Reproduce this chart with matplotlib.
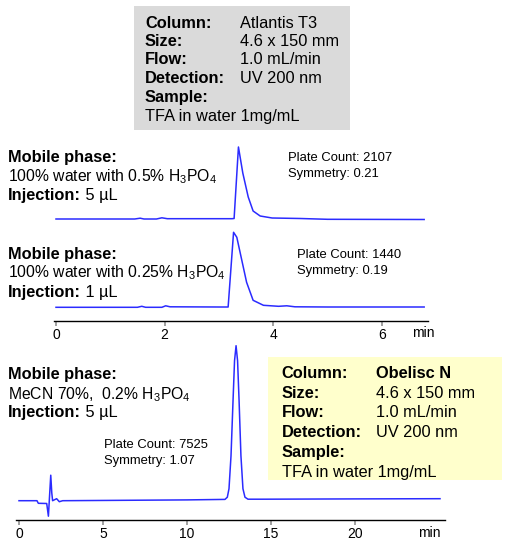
import matplotlib
matplotlib.use("Agg")
import matplotlib.pyplot as plt
import numpy as np

plt.rcParams['font.family'] = ['Liberation Sans', 'DejaVu Sans']
plt.rcParams['mathtext.fontset'] = 'custom'
plt.rcParams['mathtext.rm'] = 'Liberation Sans'
plt.rcParams['mathtext.it'] = 'Liberation Sans:italic'
plt.rcParams['mathtext.bf'] = 'Liberation Sans:bold'

# ---------------- data ----------------
# Chromatogram 1: 100% water, 0.5% H3PO4, 5 uL  (Atlantis T3)
t1 = [0.0, 1.45, 1.55, 1.62, 1.85, 1.95, 2.05, 3.0, 3.24, 3.28, 3.36, 3.44, 3.54, 3.63, 3.76, 3.98, 4.5, 5.0, 6.78]
a1 = [0.0, 0.0, 0.8, 0.0, 0.0, 1.2, 0.3, 0.3, 0.3, 0.5, 72, 46, 22, 8, 3, 1, 0.5, -0.3, -0.5]
# Chromatogram 2: 100% water, 0.25% H3PO4, 1 uL  (Atlantis T3)
t2 = [0.0, 1.5, 1.58, 1.65, 1.95, 2.02, 2.1, 3.0, 3.17, 3.27, 3.33, 3.39, 3.51, 3.63, 3.82, 4.1, 4.25, 4.4, 5.0, 6.78]
a2 = [0, 0, 1, 0, 0, 1.5, 0.5, 0.3, 0.3, 75, 70, 55, 25, 7, 2, 1, 1.5, 0.5, 0.3, 0.3]
# Chromatogram 3: MeCN 70%, 0.2% H3PO4, 5 uL  (Obelisc N)
t3 = [0, 1.07, 1.15, 1.65, 1.75, 1.82, 1.89, 1.95, 2.0, 2.24, 2.4, 2.6, 10.0, 12.26, 12.4, 12.5,
      12.62, 12.74, 12.83, 12.92, 13.01, 13.1, 13.21, 13.33, 13.45, 13.63, 14.5, 20, 25.06]
a3 = [0, 0, -2.6, -2.8, -15.5, 5, 25.5, 8, 0, 2, -1, 0, 0.8, 1.3, 3.5, 12,
      45, 100, 140, 155, 140, 100, 45, 12, 3.5, 1.5, 1.5, 1.8, 2]

ticks_top = [0, 2, 4, 6]
ticks_bottom = [0, 5, 10, 15, 20]

box_labels = ["Column:", "Size:", "Flow:", "Detection:", "Sample:"]
box1_values = ["Atlantis T3", "4.6 x 150 mm", "1.0 mL/min", "UV 200 nm", ""]
box2_values = ["Obelisc N", "4.6 x 150 mm", "1.0 mL/min", "UV 200 nm", ""]
sample_text = "TFA in water 1mg/mL"

panel_phase = ["100% water with 0.5% H$_3$PO$_4$",
               "100% water with 0.25% H$_3$PO$_4$",
               "MeCN 70%,  0.2% H$_3$PO$_4$"]
panel_inj = ["5 µL", "1 µL", "5 µL"]
panel_plate = ["Plate Count: 2107", "Plate Count: 1440", "Plate Count: 7525"]
panel_sym = ["Symmetry: 0.21", "Symmetry: 0.19", "Symmetry: 1.07"]

# ---------------- layout ----------------
W, H = 509, 551
fig = plt.figure(figsize=(W / 100, H / 100), dpi=100)
fig.patch.set_facecolor('white')


def fx(x):
    return x / W


def fy(y):
    return 1 - y / H


LINE = '#2b2bff'
BIG = 11.8
PHASE = 11.3
SMALL = 9.4


def style_axes(ax, ticks):
    for s in ['top', 'right', 'left']:
        ax.spines[s].set_visible(False)
    ax.spines['bottom'].set_color('black')
    ax.spines['bottom'].set_linewidth(1.0)
    ax.set_yticks([])
    ax.set_xticks(ticks)
    ax.set_xticklabels([str(t) for t in ticks])
    ax.tick_params(axis='x', direction='out', length=3.5, width=1.2, color='#909090',
                   labelsize=10, pad=1.5, labelcolor='black')
    ax.patch.set_alpha(0)


# Top axes (chromatograms 1 and 2)
ax1_left, ax1_right, ax1_bot, ax1_top = 54, 428, 321, 140
ax1 = fig.add_axes([fx(ax1_left), fy(ax1_bot), (ax1_right - ax1_left) / W, (ax1_bot - ax1_top) / H])
px_per_min1, x0_1 = 54.3, 56
ax1.set_xlim((ax1_left - x0_1) / px_per_min1, (ax1_right - x0_1) / px_per_min1)
ax1.set_ylim(0, ax1_bot - ax1_top)
off1, off2 = 102.0, 13.7
ax1.plot(t1, np.array(a1) + off1, color=LINE, lw=1.1, solid_joinstyle='round')
ax1.plot(t2, np.array(a2) + off2, color=LINE, lw=1.1, solid_joinstyle='round')
style_axes(ax1, ticks_top)

# Bottom axes (chromatogram 3)
ax2_left, ax2_right, ax2_bot, ax2_top = 16, 445, 520, 340
ax2 = fig.add_axes([fx(ax2_left), fy(ax2_bot), (ax2_right - ax2_left) / W, (ax2_bot - ax2_top) / H])
px_per_min2, x0_2 = 16.8, 19
ax2.set_xlim((ax2_left - x0_2) / px_per_min2, (ax2_right - x0_2) / px_per_min2)
ax2.set_ylim(0, ax2_bot - ax2_top)
off3 = 19.3
ax2.plot(t3, np.array(a3) + off3, color=LINE, lw=1.1, solid_joinstyle='round')
style_axes(ax2, ticks_bottom)

fig.text(fx(423), fy(333), "min", fontsize=10, ha='center', va='center')
fig.text(fx(429), fy(533), "min", fontsize=10, ha='center', va='center')


# ---------------- info boxes ----------------
def info_box(x0, y0, x1, y1, color, lab_x, val_x, baselines, values, bold_first_value=False):
    fig.patches.append(plt.Rectangle((fx(x0), fy(y1)), (x1 - x0) / W, (y1 - y0) / H,
                                     transform=fig.transFigure, facecolor=color,
                                     edgecolor='none', zorder=0))
    for i, lab in enumerate(box_labels):
        fig.text(fx(lab_x), fy(baselines[i]), lab, fontsize=BIG, fontweight='bold',
                 ha='left', va='baseline')
        if values[i]:
            fig.text(fx(val_x), fy(baselines[i]), values[i], fontsize=BIG,
                     fontweight='bold' if (bold_first_value and i == 0) else 'normal',
                     ha='left', va='baseline')
    fig.text(fx(lab_x), fy(baselines[5]), sample_text, fontsize=BIG, ha='left', va='baseline')


info_box(134, 6, 350, 130, '#dadada', 145, 240,
         [27.7, 46, 64.3, 83, 101.7, 120.7], box1_values)
info_box(268, 357, 502, 480, '#ffffcc', 281.5, 376.5,
         [378.5, 398.5, 416.8, 437, 456.8, 476.8], box2_values, bold_first_value=True)

# ---------------- panel annotations ----------------
panel_pos = [
    # (mobile baseline, phase baseline, injection baseline, plate x, plate baseline, sym baseline)
    (162, 181, 200, 288.3, 161.4, 177.2),
    (258.5, 276.8, 296.5, 296.7, 258.4, 273.9),
    (378.5, 399.5, 416.8, 104, 448, 464),
]
for i, (ym, yp, yi, xpl, ypl, ysy) in enumerate(panel_pos):
    fig.text(fx(8.3), fy(ym), "Mobile phase:", fontsize=BIG, fontweight='bold',
             ha='left', va='baseline')
    fig.text(fx(8.3), fy(yp), panel_phase[i], fontsize=PHASE, ha='left', va='baseline')
    tb = fig.text(fx(8.3), fy(yi), "Injection:", fontsize=BIG, fontweight='bold',
                  ha='left', va='baseline')
    ann = plt.Annotation(" " + panel_inj[i], xy=(1, 0), xycoords=tb, fontsize=BIG,
                         ha='left', va='bottom', annotation_clip=False)
    fig.add_artist(ann)
    fig.text(fx(xpl), fy(ypl), panel_plate[i], fontsize=SMALL, ha='left', va='baseline')
    fig.text(fx(xpl), fy(ysy), panel_sym[i], fontsize=SMALL, ha='left', va='baseline')

fig.savefig("out.png", dpi=100)
